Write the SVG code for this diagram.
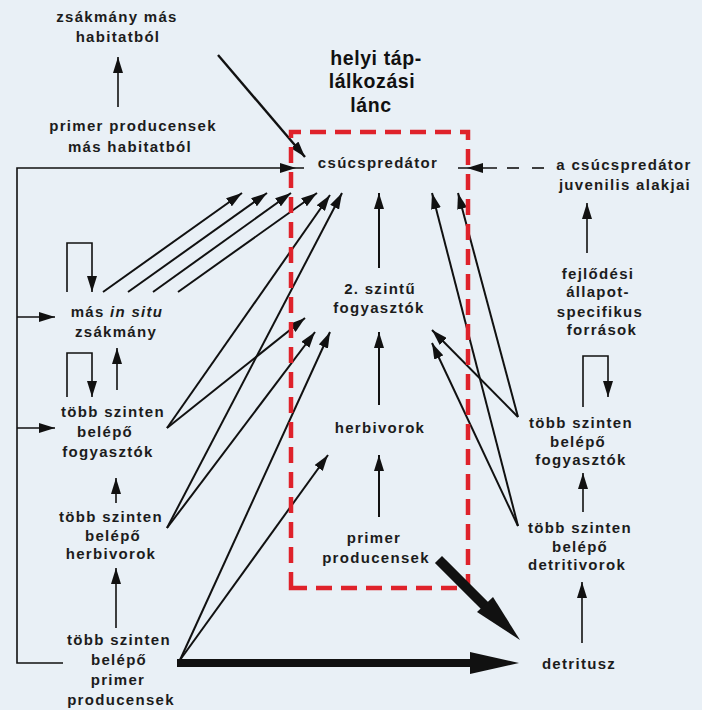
<svg xmlns="http://www.w3.org/2000/svg" width="702" height="710" viewBox="0 0 702 710">
  <defs>
    <style>
      .lbl { font-family: "Liberation Sans", Arial, sans-serif; font-weight: bold; font-size: 15px; letter-spacing: 1.3px; fill: #1c1c1c; text-anchor: middle; }
      .title { font-family: "Liberation Sans", Arial, sans-serif; font-weight: bold; font-size: 19.5px; letter-spacing: 0.6px; fill: #111; text-anchor: middle; }
      .ln { stroke: #111; stroke-width: 2; fill: none; marker-end: url(#ah); }
      .thin { stroke: #111; stroke-width: 1.6; fill: none; }
      .thinA { stroke: #111; stroke-width: 1.6; fill: none; marker-end: url(#ah); }
      .box { stroke: #df222b; stroke-width: 4.5; fill: none; stroke-dasharray: 16 9; }
    </style>
    <marker id="ah" viewBox="0 0 16 10" refX="16" refY="5" markerWidth="16" markerHeight="10" markerUnits="userSpaceOnUse" orient="auto">
      <path d="M0,0 L16,5 L0,10 z" fill="#111"/>
    </marker>
  </defs>

  <rect width="702" height="710" fill="#e9f0f6"/>

  <!-- thin connectors -->
  <g id="connectors">
    <!-- outer habitat -->
    <line class="thinA" x1="118" y1="107" x2="118" y2="57"/>
    <line x1="218" y1="55" x2="305" y2="157" stroke="#111" stroke-width="2.4" marker-end="url(#ah)"/>

    <!-- left frame feeding the top predator and side nodes -->
    <polyline class="thin" points="63,663 17,663 17,168 304,168"/>
    <polygon points="280,163 296,168 280,173" fill="#111"/>
    <line class="thinA" x1="17" y1="317" x2="55" y2="317"/>
    <line class="thinA" x1="17" y1="428" x2="55" y2="428"/>

    <!-- self loops (left) -->
    <polyline class="thinA" points="67,292 67,243 92,243 92,292"/>
    <polyline class="thinA" points="67,397 67,353 92,353 92,397"/>

    <!-- vertical chain on the left -->
    <line class="thinA" x1="117" y1="390" x2="117" y2="348"/>
    <line class="thinA" x1="116" y1="503" x2="116" y2="478"/>
    <line class="thinA" x1="116" y1="628" x2="116" y2="568"/>

    <!-- in situ prey to top predator -->
    <line class="ln" x1="103" y1="292" x2="242" y2="193"/>
    <line class="ln" x1="128" y1="292" x2="267" y2="193"/>
    <line class="ln" x1="153" y1="292" x2="291" y2="193"/>
    <line class="ln" x1="178" y1="292" x2="317" y2="193"/>

    <!-- omnivores (left) -->
    <line class="ln" x1="167" y1="428" x2="330" y2="195"/>
    <line class="ln" x1="167" y1="428" x2="305" y2="318"/>

    <!-- herbivores (left) -->
    <line class="ln" x1="167" y1="528" x2="342" y2="193"/>
    <line class="ln" x1="167" y1="528" x2="315" y2="332"/>

    <!-- primary producers (left) -->
    <line class="ln" x1="180" y1="660" x2="330" y2="332"/>
    <line class="ln" x1="180" y1="660" x2="328" y2="455"/>

    <!-- local chain -->
    <line class="ln" x1="379" y1="268" x2="379" y2="193"/>
    <line class="ln" x1="379" y1="405" x2="379" y2="332"/>
    <line class="ln" x1="379" y1="517" x2="379" y2="455"/>

    <!-- right side multi-level nodes -->
    <line class="ln" x1="518" y1="417" x2="458" y2="193"/>
    <line class="ln" x1="518" y1="417" x2="432" y2="330"/>
    <line class="ln" x1="518" y1="526" x2="432" y2="193"/>
    <line class="ln" x1="518" y1="526" x2="432" y2="343"/>

    <!-- juvenile forms (dashed) -->
    <line class="thin" x1="458" y1="168" x2="497" y2="168"/>
    <polygon points="483,163 467,168 483,173" fill="#111"/>
    <line class="thin" x1="507" y1="168" x2="519" y2="168"/>
    <line class="thin" x1="532" y1="168" x2="544" y2="168"/>

    <!-- right column -->
    <line class="thinA" x1="587" y1="253" x2="587" y2="203"/>
    <polyline class="thinA" points="583,407 583,356 608,356 608,397"/>
    <line class="thinA" x1="583" y1="512" x2="583" y2="473"/>
    <line class="thinA" x1="582" y1="643" x2="582" y2="582"/>
  </g>

  <!-- local food chain frame -->
  <g id="local-chain-frame">
    <path class="box" d="M291,588 V132 H468 V588 Z"/>
  </g>

  <!-- heavy flows to detritus -->
  <g id="connectors-heavy" fill="#111">
    <rect x="177" y="659" width="300" height="8"/>
    <polygon points="470,652 519,663 470,674"/>
    <path d="M442,563 L493,614" stroke="#111" stroke-width="10" stroke-linecap="square"/>
    <polygon points="477,612 520,640 493,597"/>
  </g>

  <!-- nodes -->
  <g id="title">
    <text class="title" x="376" y="65">helyi táp-</text>
    <text class="title" x="372" y="88">lálkozási</text>
    <text class="title" x="371" y="112">lánc</text>
  </g>
  <g id="n-prey-other-habitat">
    <text class="lbl" x="117" y="22">zsákmány más</text>
    <text class="lbl" x="118" y="42">habitatból</text>
  </g>
  <g id="n-producers-other-habitat">
    <text class="lbl" x="133" y="131">primer producensek</text>
    <text class="lbl" x="130" y="152">más habitatból</text>
  </g>
  <g id="n-top-predator">
    <text class="lbl" x="378" y="168">csúcspredátor</text>
  </g>
  <g id="n-juvenile">
    <text class="lbl" x="624" y="170">a csúcspredátor</text>
    <text class="lbl" x="625" y="190">juvenilis alakjai</text>
  </g>
  <g id="n-stage-resources">
    <text class="lbl" x="598" y="279">fejlődési</text>
    <text class="lbl" x="598" y="297">állapot-</text>
    <text class="lbl" x="600" y="317">specifikus</text>
    <text class="lbl" x="602" y="335">források</text>
  </g>
  <g id="n-secondary-consumers">
    <text class="lbl" x="380" y="294">2. szintű</text>
    <text class="lbl" x="379" y="313">fogyasztók</text>
  </g>
  <g id="n-herbivores">
    <text class="lbl" x="380" y="433">herbivorok</text>
  </g>
  <g id="n-primary-producers">
    <text class="lbl" x="374" y="543">primer</text>
    <text class="lbl" x="376" y="563">producensek</text>
  </g>
  <g id="n-in-situ-prey">
    <text class="lbl" x="117" y="317">más <tspan font-style="italic">in situ</tspan></text>
    <text class="lbl" x="116" y="337">zsákmány</text>
  </g>
  <g id="n-omnivores-left">
    <text class="lbl" x="113" y="417">több szinten</text>
    <text class="lbl" x="105" y="437">belépő</text>
    <text class="lbl" x="108" y="457">fogyasztók</text>
  </g>
  <g id="n-herbivores-left">
    <text class="lbl" x="111" y="522">több szinten</text>
    <text class="lbl" x="113" y="541">belépő</text>
    <text class="lbl" x="111" y="559">herbivorok</text>
  </g>
  <g id="n-producers-left">
    <text class="lbl" x="119" y="645">több szinten</text>
    <text class="lbl" x="119" y="665">belépő</text>
    <text class="lbl" x="118" y="685">primer</text>
    <text class="lbl" x="121" y="705">producensek</text>
  </g>
  <g id="n-omnivores-right">
    <text class="lbl" x="581" y="428">több szinten</text>
    <text class="lbl" x="578" y="447">belépő</text>
    <text class="lbl" x="581" y="465">fogyasztók</text>
  </g>
  <g id="n-detritivores-right">
    <text class="lbl" x="580" y="533">több szinten</text>
    <text class="lbl" x="580" y="552">belépő</text>
    <text class="lbl" x="577" y="570">detritivorok</text>
  </g>
  <g id="n-detritus">
    <text class="lbl" x="579" y="669">detritusz</text>
  </g>
</svg>
